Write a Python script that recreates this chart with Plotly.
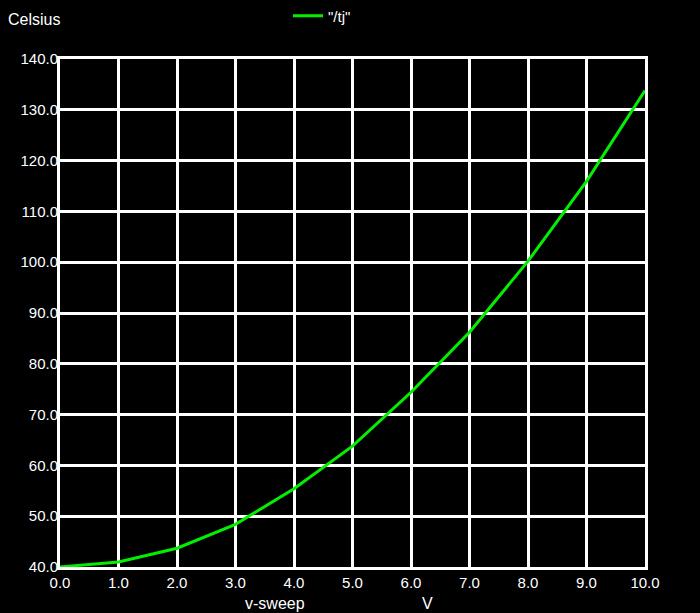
import plotly.graph_objects as go

# v-sweep (V) vs junction temperature (Celsius)
v_sweep = [0.0, 1.0, 2.0, 3.0, 4.0, 5.0, 6.0, 7.0, 8.0, 9.0, 10.0]
tj = [40.0, 41.0, 43.7, 48.4, 55.4, 63.8, 74.4, 86.2, 100.2, 115.9, 133.8]

x_ticks = [0, 1, 2, 3, 4, 5, 6, 7, 8, 9, 10]
y_ticks = [40, 50, 60, 70, 80, 90, 100, 110, 120, 130, 140]

FONT = "Liberation Sans, Arial, sans-serif"
INK = "#ffffff"
GREEN = "#00f000"

# The page body keeps its default 8px margin, so the figure is drawn 8px in.
W, H = 692, 605
PLOT_W, PLOT_H = 590, 508

fig = go.Figure()
fig.add_trace(
    go.Scatter(
        x=v_sweep,
        y=tj,
        mode="lines",
        name='"/tj"',
        line=dict(color=GREEN, width=3),
    )
)

axis_common = dict(
    showgrid=True,
    gridcolor=INK,
    gridwidth=3,
    showline=True,
    linecolor=INK,
    linewidth=3,
    mirror=True,
    zeroline=False,
    ticks="",
    tickformat=".1f",
    tickfont=dict(family=FONT, size=15, color=INK),
)

fig.update_xaxes(range=[0, 10], tickvals=x_ticks, **axis_common)
fig.update_yaxes(range=[40, 140], tickvals=y_ticks, ticklabelstandoff=-4, **axis_common)

label_font = dict(family=FONT, size=16, color=INK)

fig.update_layout(
    width=W,
    height=H,
    paper_bgcolor="#000000",
    plot_bgcolor="#000000",
    margin=dict(l=47, r=55, t=51, b=46),
    font=dict(family=FONT, color=INK, size=15),
    showlegend=True,
    legend=dict(
        orientation="h",
        xref="container",
        yref="container",
        x=280 / W,
        y=1 - 8 / H,
        xanchor="left",
        yanchor="middle",
        bgcolor="rgba(0,0,0,0)",
        font=dict(family=FONT, size=15, color=INK),
        itemwidth=30,
    ),
    annotations=[
        dict(text="Celsius", xref="paper", yref="paper", x=-54 / PLOT_W, y=1 + 39 / PLOT_H,
             xanchor="left", yanchor="middle", showarrow=False, font=label_font),
        dict(text="v-sweep", xref="paper", yref="paper", x=(272 - 55) / PLOT_W, y=-36 / PLOT_H,
             xanchor="center", yanchor="middle", showarrow=False, font=label_font),
        dict(text="V", xref="paper", yref="paper", x=(426 - 55) / PLOT_W, y=-36 / PLOT_H,
             xanchor="center", yanchor="middle", showarrow=False, font=label_font),
    ],
)

# paint the page body black so the 8px body margin doesn't show as a white strip
fig.write_html("out.html", post_script="document.body.style.backgroundColor = '#000000';")
